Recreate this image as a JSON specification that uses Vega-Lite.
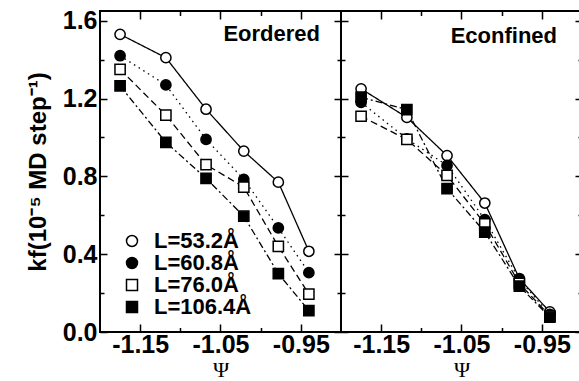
{
  "$schema": "https://vega.github.io/schema/vega-lite/v6.json",
  "autosize": {"type": "none"},
  "padding": {"left": 100, "top": 11, "right": 479, "bottom": 370},
  "background": "white",
  "config": {"view": {"stroke": "black", "strokeWidth": 2}, "concat": {"spacing": 0}},
  "spacing": 0,
  "bounds": "flush",
  "datasets": {
    "ordered": [
      {"L": "L=53.2Å", "psi": -1.175, "kf": 1.53},
      {"L": "L=53.2Å", "psi": -1.118, "kf": 1.41},
      {"L": "L=53.2Å", "psi": -1.068, "kf": 1.145},
      {"L": "L=53.2Å", "psi": -1.021, "kf": 0.93},
      {"L": "L=53.2Å", "psi": -0.978, "kf": 0.77},
      {"L": "L=53.2Å", "psi": -0.94, "kf": 0.415},
      {"L": "L=60.8Å", "psi": -1.175, "kf": 1.42},
      {"L": "L=60.8Å", "psi": -1.118, "kf": 1.27},
      {"L": "L=60.8Å", "psi": -1.068, "kf": 0.99},
      {"L": "L=60.8Å", "psi": -1.021, "kf": 0.785},
      {"L": "L=60.8Å", "psi": -0.978, "kf": 0.535},
      {"L": "L=60.8Å", "psi": -0.94, "kf": 0.305},
      {"L": "L=76.0Å", "psi": -1.175, "kf": 1.35},
      {"L": "L=76.0Å", "psi": -1.118, "kf": 1.115},
      {"L": "L=76.0Å", "psi": -1.068, "kf": 0.86},
      {"L": "L=76.0Å", "psi": -1.021, "kf": 0.745},
      {"L": "L=76.0Å", "psi": -0.978, "kf": 0.44},
      {"L": "L=76.0Å", "psi": -0.94, "kf": 0.195},
      {"L": "L=106.4Å", "psi": -1.175, "kf": 1.265},
      {"L": "L=106.4Å", "psi": -1.118, "kf": 0.975},
      {"L": "L=106.4Å", "psi": -1.068, "kf": 0.79},
      {"L": "L=106.4Å", "psi": -1.021, "kf": 0.595},
      {"L": "L=106.4Å", "psi": -0.978, "kf": 0.3},
      {"L": "L=106.4Å", "psi": -0.94, "kf": 0.11}
    ],
    "confined": [
      {"L": "L=53.2Å", "psi": -1.175, "kf": 1.25},
      {"L": "L=53.2Å", "psi": -1.118, "kf": 1.103},
      {"L": "L=53.2Å", "psi": -1.068, "kf": 0.907},
      {"L": "L=53.2Å", "psi": -1.021, "kf": 0.663},
      {"L": "L=53.2Å", "psi": -0.978, "kf": 0.275},
      {"L": "L=53.2Å", "psi": -0.94, "kf": 0.103},
      {"L": "L=60.8Å", "psi": -1.175, "kf": 1.18},
      {"L": "L=60.8Å", "psi": -1.118, "kf": 0.993},
      {"L": "L=60.8Å", "psi": -1.068, "kf": 0.856},
      {"L": "L=60.8Å", "psi": -1.021, "kf": 0.578},
      {"L": "L=60.8Å", "psi": -0.978, "kf": 0.27},
      {"L": "L=60.8Å", "psi": -0.94, "kf": 0.09},
      {"L": "L=76.0Å", "psi": -1.175, "kf": 1.109},
      {"L": "L=76.0Å", "psi": -1.118, "kf": 0.99},
      {"L": "L=76.0Å", "psi": -1.068, "kf": 0.805},
      {"L": "L=76.0Å", "psi": -1.021, "kf": 0.556},
      {"L": "L=76.0Å", "psi": -0.978, "kf": 0.25},
      {"L": "L=76.0Å", "psi": -0.94, "kf": 0.082},
      {"L": "L=106.4Å", "psi": -1.175, "kf": 1.207},
      {"L": "L=106.4Å", "psi": -1.118, "kf": 1.143},
      {"L": "L=106.4Å", "psi": -1.068, "kf": 0.737},
      {"L": "L=106.4Å", "psi": -1.021, "kf": 0.514},
      {"L": "L=106.4Å", "psi": -0.978, "kf": 0.236},
      {"L": "L=106.4Å", "psi": -0.94, "kf": 0.076}
    ]
  },
  "resolve": {"scale": {"shape": "independent", "fill": "independent", "stroke": "independent", "strokeDash": "independent"}},
  "hconcat": [
    {
      "width": 241,
      "height": 321,
      "data": {"name": "ordered"},
      "title": {"text": "Eordered", "anchor": "end", "orient": "top", "frame": "group", "offset": -54, "dx": -21, "baseline": "alphabetic", "font": "Liberation Sans", "fontSize": 22, "fontWeight": "bold", "color": "black"},
      "encoding": {
        "x": {"field": "psi", "type": "quantitative", "scale": {"domain": [-1.2, -0.9], "nice": false, "zero": false},
          "axis": {"orient": "bottom", "values": [-1.15, -1.1, -1.05, -1.0, -0.95], "domain": false, "ticks": false,
            "grid": true, "gridColor": "black", "gridOpacity": 1, "gridWidth": 1.5,
            "gridDash": {"condition": {"test": "round(datum.value*100)%10 != 0", "value": [8, 305, 8]}, "value": [4.5, 312, 4.5]},
            "labelExpr": "round(datum.value*100)%10 != 0 ? '-' + format(abs(datum.value), '.2f') : ''",
            "labelPadding": 0, "labelFlush": false, "labelOverlap": false,
            "labelFont": "Liberation Sans", "labelFontSize": 25, "labelFontWeight": "bold", "labelColor": "black",
            "title": "Ψ", "titleFont": "Liberation Serif", "titleFontSize": 22, "titleFontWeight": "normal", "titleColor": "black", "titlePadding": 2}},
        "y": {"field": "kf", "type": "quantitative", "scale": {"domain": [0, 1.65], "nice": false},
          "axis": {"orient": "left", "values": [0, 0.2, 0.4, 0.6, 0.8, 1.0, 1.2, 1.4, 1.6], "domain": false, "ticks": false,
            "grid": true, "gridColor": "black", "gridOpacity": 1, "gridWidth": 1.5,
            "gridDash": {"condition": {"test": "round(datum.value*10)%4 == 0", "value": [7, 227, 7]}, "value": [4, 233, 4]},
            "labelExpr": "round(datum.value*10)%4 == 0 ? format(datum.value, '.1f') : ''",
            "labelPadding": 3, "labelFlush": false, "labelOverlap": false,
            "labelFont": "Liberation Sans", "labelFontSize": 25, "labelFontWeight": "bold", "labelColor": "black",
            "title": "kf(10⁻⁵ MD step⁻¹)", "titleFont": "Liberation Sans", "titleFontSize": 24, "titleFontWeight": "bold", "titleColor": "black", "titlePadding": 12}}
      },
      "layer": [
        {
          "mark": {"type": "line", "color": "black", "strokeWidth": 1.3},
          "encoding": {
            "strokeDash": {"field": "L", "type": "nominal",
              "scale": {"domain": ["L=106.4Å", "L=76.0Å", "L=60.8Å", "L=53.2Å"], "range": [[7, 3, 2, 3], [7, 4], [1.5, 4], [1, 0]]},
              "legend": null}
          }
        },
        {
          "mark": {"type": "point", "filled": false, "color": "black", "opacity": 1, "strokeWidth": 1.5, "size": 105},
          "encoding": {
            "shape": {"field": "L", "type": "nominal",
              "scale": {"domain": ["L=53.2Å", "L=60.8Å", "L=76.0Å", "L=106.4Å"], "range": ["circle", "circle", "square", "square"]},
              "legend": {"orient": "none", "legendX": 21, "legendY": 219, "title": null, "symbolSize": 121, "symbolStrokeColor": "black", "symbolStrokeWidth": 1.5,
                "labelFont": "Liberation Sans", "labelFontSize": 22, "labelFontWeight": "bold", "labelColor": "black", "labelOffset": 11, "rowPadding": 0, "padding": 0}},
            "fill": {"field": "L", "type": "nominal",
              "scale": {"domain": ["L=53.2Å", "L=60.8Å", "L=76.0Å", "L=106.4Å"], "range": ["white", "black", "white", "black"]}},
            "stroke": {"field": "L", "type": "nominal",
              "scale": {"domain": ["L=53.2Å", "L=60.8Å", "L=76.0Å", "L=106.4Å"], "range": ["black", "black", "black", "black"]}}
          }
        }
      ]
    },
    {
      "width": 241,
      "height": 321,
      "data": {"name": "confined"},
      "title": {"text": "Econfined", "anchor": "end", "orient": "top", "frame": "group", "offset": -54, "dx": -25, "baseline": "alphabetic", "font": "Liberation Sans", "fontSize": 22, "fontWeight": "bold", "color": "black"},
      "encoding": {
        "x": {"field": "psi", "type": "quantitative", "scale": {"domain": [-1.2, -0.9], "nice": false, "zero": false},
          "axis": {"orient": "bottom", "values": [-1.15, -1.1, -1.05, -1.0, -0.95], "domain": false, "ticks": false,
            "grid": true, "gridColor": "black", "gridOpacity": 1, "gridWidth": 1.5,
            "gridDash": {"condition": {"test": "round(datum.value*100)%10 != 0", "value": [8, 305, 8]}, "value": [4.5, 312, 4.5]},
            "labelExpr": "round(datum.value*100)%10 != 0 ? '-' + format(abs(datum.value), '.2f') : ''",
            "labelPadding": 0, "labelFlush": false, "labelOverlap": false,
            "labelFont": "Liberation Sans", "labelFontSize": 25, "labelFontWeight": "bold", "labelColor": "black",
            "title": "Ψ", "titleFont": "Liberation Serif", "titleFontSize": 22, "titleFontWeight": "normal", "titleColor": "black", "titlePadding": 2}},
        "y": {"field": "kf", "type": "quantitative", "scale": {"domain": [0, 1.65], "nice": false},
          "axis": {"orient": "left", "values": [0, 0.2, 0.4, 0.6, 0.8, 1.0, 1.2, 1.4, 1.6], "domain": false, "ticks": false, "labels": false, "title": null,
            "grid": true, "gridColor": "black", "gridOpacity": 1, "gridWidth": 1.5,
            "gridDash": {"condition": {"test": "round(datum.value*10)%4 == 0", "value": [7, 227, 7]}, "value": [4, 233, 4]}}}
      },
      "layer": [
        {
          "mark": {"type": "line", "color": "black", "strokeWidth": 1.3},
          "encoding": {
            "strokeDash": {"field": "L", "type": "nominal",
              "scale": {"domain": ["L=106.4Å", "L=76.0Å", "L=60.8Å", "L=53.2Å"], "range": [[7, 3, 2, 3], [7, 4], [1.5, 4], [1, 0]]},
              "legend": null}
          }
        },
        {
          "mark": {"type": "point", "filled": false, "color": "black", "opacity": 1, "strokeWidth": 1.5, "size": 105},
          "encoding": {
            "shape": {"field": "L", "type": "nominal",
              "scale": {"domain": ["L=53.2Å", "L=60.8Å", "L=76.0Å", "L=106.4Å"], "range": ["circle", "circle", "square", "square"]}, "legend": null},
            "fill": {"field": "L", "type": "nominal",
              "scale": {"domain": ["L=53.2Å", "L=60.8Å", "L=76.0Å", "L=106.4Å"], "range": ["white", "black", "white", "black"]}, "legend": null},
            "stroke": {"field": "L", "type": "nominal",
              "scale": {"domain": ["L=53.2Å", "L=60.8Å", "L=76.0Å", "L=106.4Å"], "range": ["black", "black", "black", "black"]}, "legend": null}
          }
        }
      ]
    }
  ]
}
